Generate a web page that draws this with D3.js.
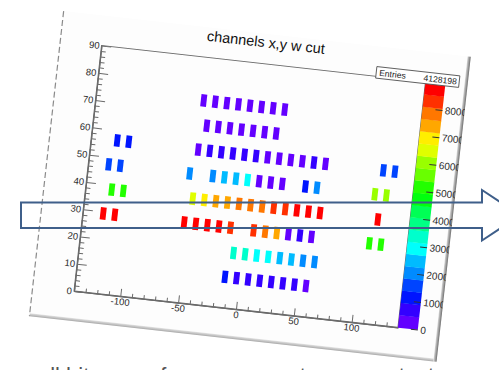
<!DOCTYPE html>
<html>
<head>
<meta charset="utf-8">
<script src="https://cdn.jsdelivr.net/npm/d3@7"></script>
<style>
  html, body { margin: 0; padding: 0; background: #ffffff; }
  svg { display: block; }
</style>
</head>
<body>
<svg id="chart" width="499" height="370"></svg>
<script>
// ---- histogram contents: occupied channel bins, one row per y bin ----
const rowY = [74.25, 65.25, 56.25, 47.25, 38.25, 29.25, 20.25, 11.25,
              56.25, 47.25, 38.25, 29.25,
              56.25, 47.25, 38.25, 29.25];
const rowX = [
  [-47.5, -37.5, -27.5, -17.5, -7.5, 2.5, 12.5, 22.5],
  [-42.5, -32.5, -22.5, -12.5, -2.5, 7.5, 17.5],
  [-47.5, -37.5, -27.5, -17.5, -7.5, 2.5, 12.5, 22.5, 32.5, 42.5, 52.5, 62.5],
  [-52.5, -32.5, -22.5, -12.5, -2.5, 7.5, 17.5, 27.5, 47.5, 57.5],
  [-47.5, -37.5, -27.5, -17.5, -7.5, 2.5, 12.5, 22.5, 32.5, 42.5, 52.5, 62.5],
  [-52.5, -42.5, -32.5, -22.5, -12.5, 7.5, 17.5, 27.5, 37.5, 47.5, 57.5],
  [-7.5, 2.5, 12.5, 22.5, 32.5, 42.5, 52.5, 62.5],
  [-12.5, -2.5, 7.5, 17.5, 27.5, 37.5, 47.5, 57.5],
  [-117.5, -107.5],
  [-122.5, -112.5],
  [-117.5, -107.5],
  [-122.5, -112.5],
  [112.5, 122.5],
  [107.5, 117.5],
  [112.5],
  [107.5, 117.5]
];
const rowN = [
  [312, 268, 291, 244, 335, 281, 257, 303],
  [287, 322, 251, 298, 272, 309, 243],
  [395, 612, 705, 668, 590, 548, 420, 356, 301, 268, 515, 338],
  [2030, 2150, 2480, 2610, 2920, 352, 318, 289, 1210, 1960],
  [6480, 6950, 7400, 7460, 7830, 7900, 7960, 8310, 8380, 8720, 8850, 8940],
  [8810, 8760, 8690, 8600, 8330, 8150, 7750, 7290, 344, 652, 298],
  [3420, 3300, 2950, 2870, 2540, 2450, 2100, 1990],
  [1150, 760, 690, 720, 650, 600, 580, 380],
  [1080, 1170],
  [1590, 1520],
  [5150, 5080],
  [8790, 8650],
  [1610, 1480],
  [5950, 6020],
  [8700],
  [5120, 5200]
];
const xTicks = [-100, -50, 0, 50, 100];
const yTicks = [0, 10, 20, 30, 40, 50, 60, 70, 80, 90];
const zTicks = [0, 1000, 2000, 3000, 4000, 5000, 6000, 7000, 8000];
const titleText = "channels x,y w cut";
const entriesLabel = "Entries";
const entriesValue = "4128198";
const captionText = "all hits seen for every event over our test runs";

// ---- histogram binning ----
const xRange = [-140, 140], yRange = [0, 90];
const binW = 5, binH = 4.5;
const nContours = 20;

// ---- canvas / frame geometry (canvas is tilted on the page) ----
const tilt = 6.4;
const anchor = [74, 291];          // frame bottom-left on the page
const frameW = 326, frameH = 247;
const cv = { x0: -41.5, x1: 368, y0: -277, y1: 30 };
const pal = { x0: 326, x1: 346 };
const FONT = "'Liberation Sans', Arial, Helvetica, sans-serif";

const svg = d3.select("#chart");
const defs = svg.append("defs");

// ROOT "pretty palette": 50 colours, violet -> red in HLS
const prettyHue = j => 280 - (j + 1) * (280 / 50);
const contourColor = k => {
  const j = Math.min(49, Math.floor((k + 0.99) * 50 / nContours));
  return d3.hsl(prettyHue(j), 1, 0.5).formatHex();
};

const cells = [];
rowY.forEach((yy, r) => rowX[r].forEach((xx, i) => cells.push({ x: xx, y: yy, n: rowN[r][i] })));
const zmax = d3.max(cells, d => d.n);
const level = v => Math.min(nContours - 1, Math.floor(v / zmax * nContours));

const x = d3.scaleLinear().domain(xRange).range([0, frameW]);
const y = d3.scaleLinear().domain(yRange).range([0, -frameH]);
const z = d3.scaleLinear().domain([0, zmax]).range([0, -frameH]);

// clip for everything drawn on the canvas
defs.append("clipPath").attr("id", "canvasClip")
  .append("rect").attr("x", cv.x0).attr("y", cv.y0)
  .attr("width", cv.x1 - cv.x0).attr("height", cv.y1 - cv.y0);

const grad = defs.append("linearGradient").attr("id", "edgeR").attr("x1", 0).attr("x2", 1);
grad.append("stop").attr("offset", 0).attr("stop-color", "#d6d6d6");
grad.append("stop").attr("offset", 1).attr("stop-color", "#6e6e6e");
const gradB = defs.append("linearGradient").attr("id", "edgeB").attr("x1", 0).attr("x2", 0).attr("y1", 0).attr("y2", 1);
gradB.append("stop").attr("offset", 0).attr("stop-color", "#e2e2e2");
gradB.append("stop").attr("offset", 1).attr("stop-color", "#a9a9a9");

const canvas = svg.append("g")
  .attr("transform", `translate(${anchor[0]},${anchor[1]}) rotate(${tilt})`);

// canvas sheet
canvas.append("rect")
  .attr("x", cv.x0).attr("y", cv.y0)
  .attr("width", cv.x1 - cv.x0).attr("height", cv.y1 - cv.y0)
  .attr("fill", "#fdfdfd");
// bevel edges
canvas.append("rect").attr("x", cv.x1 - 3).attr("y", cv.y0)
  .attr("width", 3.2).attr("height", cv.y1 - cv.y0).attr("fill", "url(#edgeR)");
canvas.append("rect").attr("x", cv.x0).attr("y", cv.y1 - 3)
  .attr("width", cv.x1 - cv.x0 - 3).attr("height", 3).attr("fill", "url(#edgeB)");
canvas.append("line")
  .attr("x1", cv.x0).attr("x2", cv.x0).attr("y1", cv.y0).attr("y2", cv.y1)
  .attr("stroke", "#8a8a8a").attr("stroke-width", 1.2).attr("stroke-dasharray", "6,3");

const inner = canvas.append("g").attr("clip-path", "url(#canvasClip)");

// 2D bins (COLZ)
inner.append("g").selectAll("rect").data(cells).join("rect")
  .attr("x", d => x(d.x - binW / 2))
  .attr("y", d => y(d.y + binH / 2))
  .attr("width", d => x(d.x + binW / 2) - x(d.x - binW / 2))
  .attr("height", d => y(d.y - binH / 2) - y(d.y + binH / 2))
  .attr("fill", d => contourColor(level(d.n)));

// frame
inner.append("rect").attr("x", 0).attr("y", -frameH)
  .attr("width", frameW).attr("height", frameH)
  .attr("fill", "none").attr("stroke", "#6a6a6a").attr("stroke-width", 1);

function styleAxis(g, tickColor) {
  g.selectAll(".domain").attr("stroke", "#6a6a6a");
  g.selectAll(".tick line").attr("stroke", tickColor || "#6a6a6a");
  g.selectAll("text").attr("fill", "#2a2a2a").attr("font-family", FONT).attr("font-size", 9.5);
  g.attr("font-family", null).attr("font-size", null);
}

// x axis: majors every 50, minors every 10
const xMinor = d3.range(-140, 141, 10).filter(v => !xTicks.includes(v));
inner.append("g").call(d3.axisBottom(x).tickValues(xMinor).tickSize(-frameH * 0.015).tickSizeOuter(0).tickFormat(""))
  .call(g => styleAxis(g));
inner.append("g").call(d3.axisBottom(x).tickValues(xTicks).tickSize(-frameH * 0.03).tickSizeOuter(0)
    .tickPadding(2).tickFormat(d => String(d)))
  .call(g => styleAxis(g));

// y axis: majors every 10, minors every 2
const yMinor = d3.range(0, 91, 2).filter(v => !yTicks.includes(v));
inner.append("g").call(d3.axisLeft(y).tickValues(yMinor).tickSize(-frameW * 0.015).tickSizeOuter(0).tickFormat(""))
  .call(g => styleAxis(g));
inner.append("g").call(d3.axisLeft(y).tickValues(yTicks).tickSize(-frameW * 0.03).tickSizeOuter(0)
    .tickPadding(2).tickFormat(d => String(d)))
  .call(g => styleAxis(g));

// colour palette
const levels = d3.range(nContours);
const pg = inner.append("g");
pg.selectAll("rect").data(levels).join("rect")
  .attr("x", pal.x0).attr("width", pal.x1 - pal.x0)
  .attr("y", k => z((k + 1) * zmax / nContours))
  .attr("height", k => z(k * zmax / nContours) - z((k + 1) * zmax / nContours) + 0.3)
  .attr("fill", k => contourColor(k));
pg.append("g").attr("transform", `translate(${pal.x1},0)`)
  .call(d3.axisRight(z).tickValues(zTicks).tickSize(-7).tickSizeOuter(0).tickPadding(2.5)
    .tickFormat(d => String(d)))
  .call(g => { styleAxis(g, "#333"); g.selectAll("text").attr("font-size", 10); g.select(".domain").attr("stroke", "none"); });

// title
inner.append("text")
  .attr("x", frameW / 2).attr("y", -263.5)
  .attr("text-anchor", "middle")
  .attr("font-family", FONT).attr("font-size", 14.5).attr("fill", "#111")
  .text(titleText);

// statistics box
const sb = { x0: 276, x1: 359.5, y0: -256.8, y1: -245.2 };
inner.append("rect").attr("x", sb.x0).attr("y", sb.y0)
  .attr("width", sb.x1 - sb.x0).attr("height", sb.y1 - sb.y0)
  .attr("fill", "#ffffff").attr("stroke", "#555").attr("stroke-width", 0.9);
inner.append("text").attr("x", sb.x0 + 3).attr("y", sb.y1 - 2.6)
  .attr("font-family", FONT).attr("font-size", 8.6).attr("fill", "#222").text(entriesLabel);
inner.append("text").attr("x", sb.x1 - 2.5).attr("y", sb.y1 - 2.6).attr("text-anchor", "end")
  .attr("font-family", FONT).attr("font-size", 8.6).attr("fill", "#222").text(entriesValue);

// caption underneath (runs off the bottom of the page)
svg.append("text").attr("x", 38).attr("y", 382.5)
  .attr("font-family", FONT).attr("font-size", 22).attr("fill", "#555")
  .text(captionText);

// outline arrow across the chart
const arrow = d3.path();
arrow.moveTo(21, 202.5);
arrow.lineTo(482, 202.5);
arrow.lineTo(482, 190);
arrow.lineTo(520, 215.2);
arrow.lineTo(482, 240.5);
arrow.lineTo(482, 228);
arrow.lineTo(21, 228);
arrow.closePath();
svg.append("path").attr("d", arrow.toString())
  .attr("fill", "none").attr("stroke", "#3f5f8a").attr("stroke-width", 2)
  .attr("stroke-linejoin", "miter");
</script>
</body>
</html>
